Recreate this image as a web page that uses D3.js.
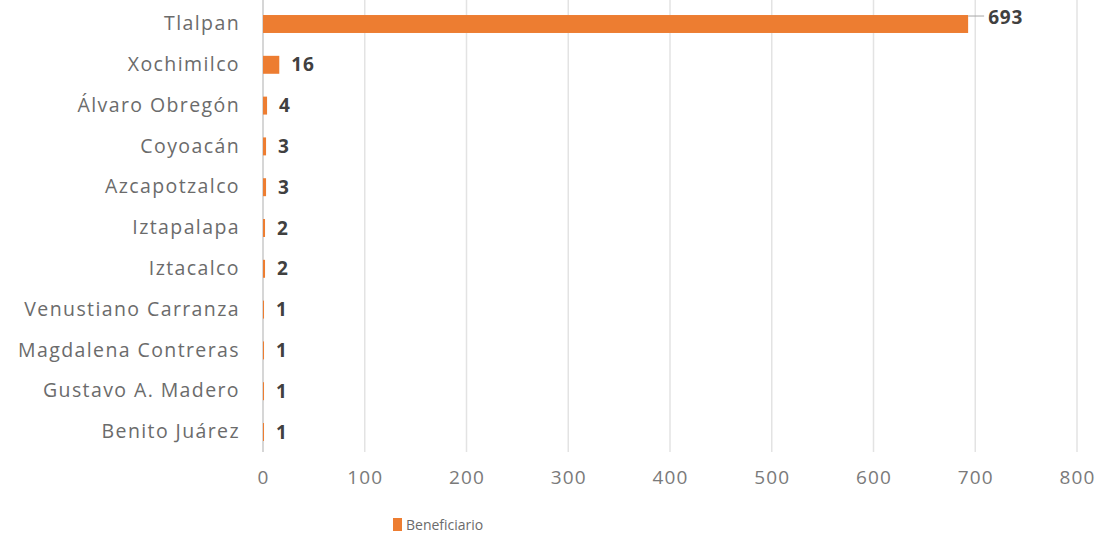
<!DOCTYPE html>
<html>
<head>
<meta charset="utf-8">
<script src="https://cdn.jsdelivr.net/npm/d3@7"></script>
<style>
  body { margin: 0; background: #fff; }
  text { font-family: "Open Sans", "Liberation Sans", sans-serif; }
</style>
</head>
<body>
<div id="chart"></div>
<script>
const categories = ["Tlalpan", "Xochimilco", "Álvaro Obregón", "Coyoacán", "Azcapotzalco",
  "Iztapalapa", "Iztacalco", "Venustiano Carranza", "Magdalena Contreras", "Gustavo A. Madero", "Benito Juárez"];
const values = [693, 16, 4, 3, 3, 2, 2, 1, 1, 1, 1];
const xTicks = [0, 100, 200, 300, 400, 500, 600, 700, 800];
const seriesName = "Beneficiario";

const W = 1105, H = 542;
const svg = d3.select("#chart").append("svg")
  .attr("width", W).attr("height", H);

const x = d3.scaleLinear().domain([0, 800]).range([263, 1077]);
const y = d3.scaleBand().domain(categories).range([3.6, 452.4]).paddingInner(0.56).paddingOuter(0.28);

// gridlines
svg.append("g")
  .selectAll("line")
  .data(xTicks)
  .enter().append("line")
  .attr("x1", d => x(d)).attr("x2", d => x(d))
  .attr("y1", 0).attr("y2", 452)
  .attr("stroke", "#e3e3e3").attr("stroke-width", 1.5);

// x axis labels
const xAxis = svg.append("g")
  .attr("transform", "translate(0,470)")
  .call(d3.axisBottom(x).tickValues(xTicks).tickSize(0).tickPadding(0));
xAxis.select(".domain").remove();
xAxis.selectAll("text")
  .attr("font-size", 19).attr("fill", "#7a7a7a")
  .attr("letter-spacing", 1.2)
  .style("font-family", "'Open Sans', sans-serif");

// category axis
const yAxis = svg.append("g")
  .attr("transform", `translate(${x(0)},0)`)
  .call(d3.axisLeft(y).tickSize(0).tickPadding(23));
yAxis.select(".domain").attr("stroke", "#cfcfcf").attr("stroke-width", 1.5)
  .attr("d", "M0,0V452");
yAxis.selectAll("text")
  .attr("font-size", 19.5).attr("fill", "#6b6b6b")
  .attr("letter-spacing", 1.4)
  .style("font-family", "'Open Sans', sans-serif");

// bars
svg.selectAll("rect.bar")
  .data(categories)
  .enter().append("rect")
  .attr("class", "bar")
  .attr("x", x(0))
  .attr("y", d => y(d))
  .attr("width", (d, i) => x(values[i]) - x(0))
  .attr("height", y.bandwidth())
  .attr("fill", "#ed7d31");

// leader line for the largest value
const maxI = values.indexOf(d3.max(values));
svg.append("line")
  .attr("x1", x(values[maxI])).attr("x2", x(values[maxI]) + 16)
  .attr("y1", y(categories[maxI]) + 1)
  .attr("y2", y(categories[maxI]) + 1)
  .attr("stroke", "#a6a6a6").attr("stroke-width", 1);

// value labels
svg.selectAll("text.val")
  .data(categories)
  .enter().append("text")
  .attr("class", "val")
  .attr("x", (d, i) => x(values[i]) + (i === maxI ? 20 : 12))
  .attr("y", (d, i) => y(d) + y.bandwidth() / 2 + (i === maxI ? -7 : 0))
  .attr("dy", "0.35em")
  .attr("font-size", 19).attr("font-weight", "bold").attr("fill", "#404040")
  .attr("letter-spacing", 0.8)
  .text((d, i) => values[i]);

// legend
const lg = svg.append("g").attr("transform", "translate(393,525)");
lg.append("rect").attr("x", 0).attr("y", -7).attr("width", 9).attr("height", 13).attr("fill", "#ed7d31");
lg.append("text").attr("x", 13).attr("dy", "0.35em")
  .attr("font-size", 14).attr("fill", "#6b6b6b").text(seriesName);
</script>
</body>
</html>
